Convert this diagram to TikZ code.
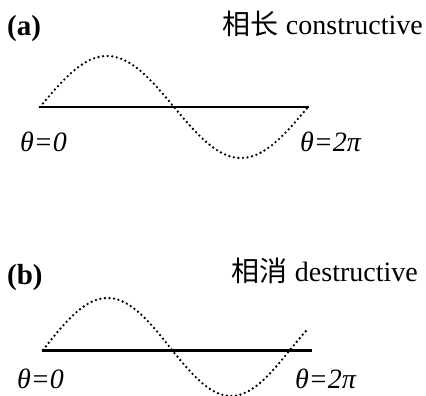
\documentclass[tikz,border=0pt]{standalone}
\usepackage{fontspec}
\setmainfont{Liberation Serif}
\newfontfamily\cjk{Noto Sans CJK SC}
\begin{document}
\begin{tikzpicture}[x=1pt,y=-1pt,
  lbl/.style={inner sep=0pt,font=\fontsize{28}{30}\selectfont},
  axisline/.style={line width=2.8pt},
  wave/.style={line width=2.6pt,line cap=round,dash pattern=on 0pt off 4.6pt}]
\useasboundingbox (0,0) rectangle (426,396);
% (a)
\node[lbl,anchor=base west,font=\fontsize{29}{30}\selectfont\bfseries] (la) at (7,36) {(a)};
\node[lbl,anchor=base east] (ta) at (423,35) {{\cjk 相长} constructive};
\coordinate (a0) at (39,107);
\coordinate (a1) at (309,107);
\draw[axisline] (a0) -- (a1);
\draw[wave] plot[domain=0:268,samples=120] ({40+\x},{107-51*sin(\x/268*360)});
\node[lbl,anchor=base west] (za) at (20,151) {\itshape θ=0};
\node[lbl,anchor=base west] (pa) at (300,151) {\itshape θ=2π};
% (b)
\node[lbl,anchor=base west,font=\fontsize{29}{30}\selectfont\bfseries] (lb) at (7,284) {(b)};
\node[lbl,anchor=base east] (tb) at (418,281) {{\cjk 相消} destructive};
\coordinate (b0) at (42,350.5);
\coordinate (b1) at (312,350.5);
\draw[axisline] (b0) -- (b1);
\draw[wave] plot[domain=0:129,samples=70] ({43+\x},{350-52*sin(\x/129*180)})
  -- plot[domain=0:135,samples=70] ({172+\x},{350+46*sin(\x/118*180)});
\node[lbl,anchor=base west] (zb) at (17,388) {\itshape θ=0};
\node[lbl,anchor=base west] (pb) at (295,388) {\itshape θ=2π};
\end{tikzpicture}
\end{document}
